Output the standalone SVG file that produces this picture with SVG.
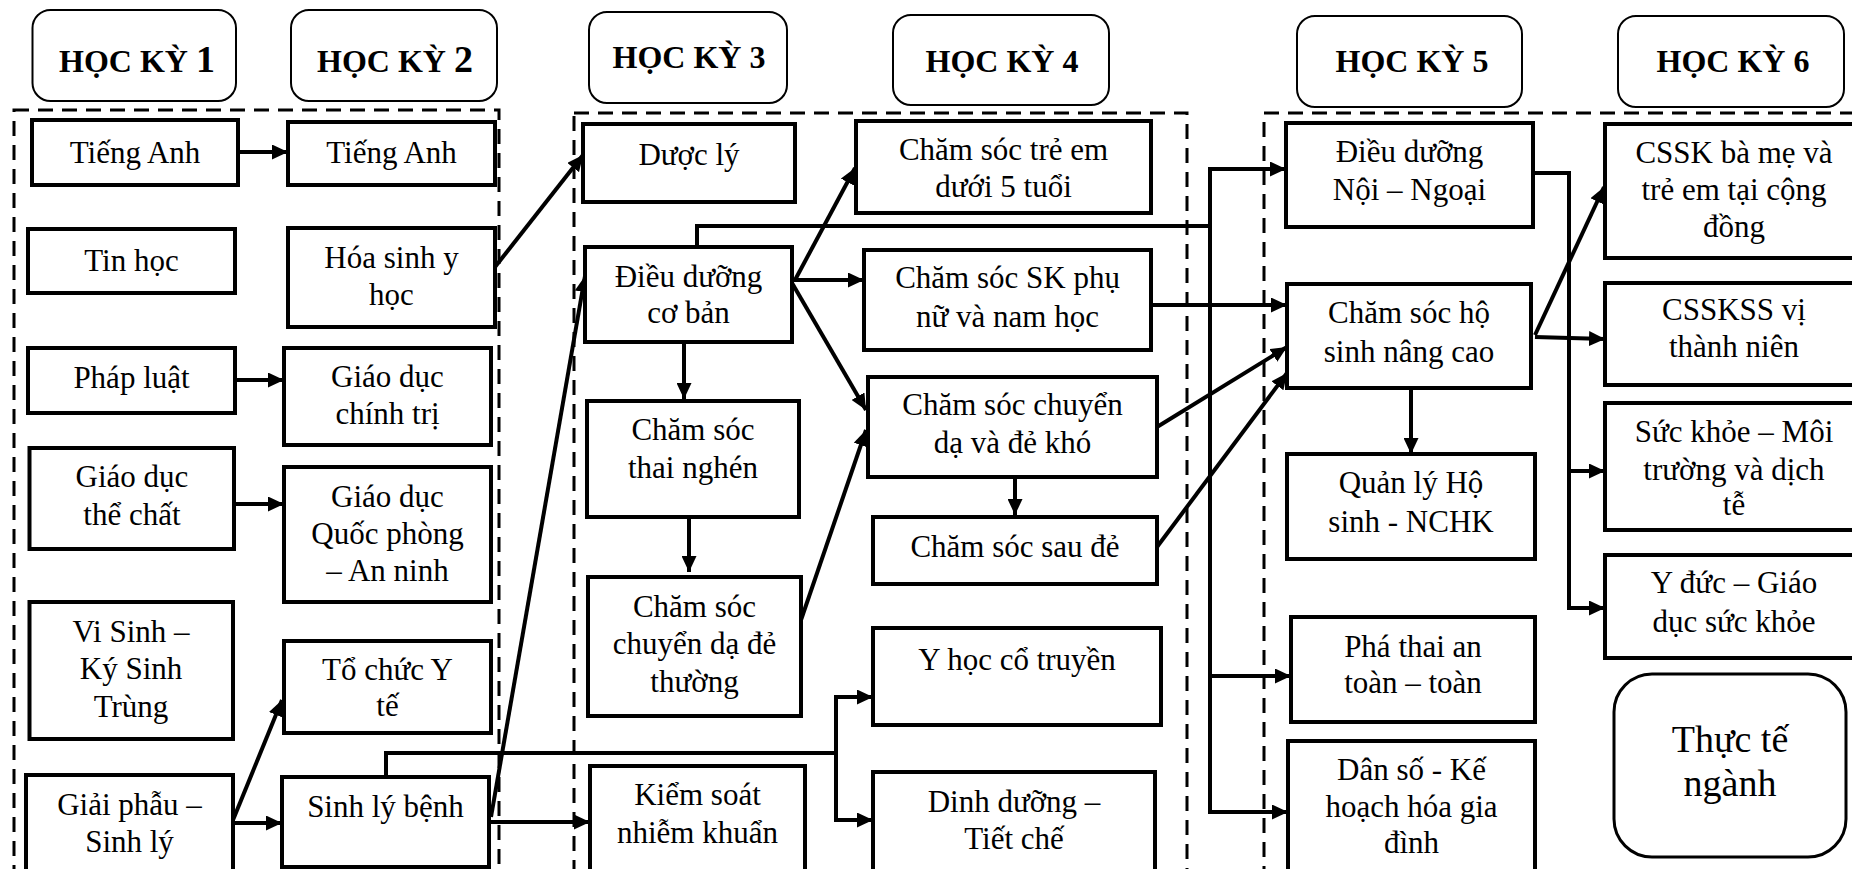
<svg xmlns="http://www.w3.org/2000/svg" width="1852" height="869" viewBox="0 0 1852 869">
<style>
.t{font-family:"Liberation Serif","Times New Roman",serif;font-size:31px;text-anchor:middle;fill:#000}
.h{font-family:"Liberation Serif","Times New Roman",serif;font-size:32px;font-weight:bold;text-anchor:middle;fill:#000}
.box{fill:#fff;stroke:#000;stroke-width:4}
.hd{fill:#fff;stroke:#000;stroke-width:2}
.dash{fill:none;stroke:#000;stroke-width:3;stroke-dasharray:15 9}
.c{fill:none;stroke:#000;stroke-width:4}
.a{fill:none;stroke:#000;stroke-width:4;marker-end:url(#ah)}
</style>
<defs>
<marker id="ah" viewBox="0 0 16 15" refX="16" refY="7.5" markerWidth="16" markerHeight="15" markerUnits="userSpaceOnUse" orient="auto">
<path d="M0,0 L16,7.5 L0,15 z" fill="#000"/>
</marker>
</defs>
<rect width="1852" height="869" fill="#fff"/>

<g id="semesters">
<rect class="dash" x="14" y="110" width="485" height="800"/>
<rect class="dash" x="574" y="113" width="613" height="800"/>
<rect class="dash" x="1264" y="113" width="700" height="800"/>
</g>

<g id="hk1"><rect class="hd" x="32.5" y="10" width="203.5" height="91" rx="18"/><text class="h" x="137" y="72">HỌC KỲ <tspan font-size="38">1</tspan></text></g>
<g id="hk2"><rect class="hd" x="291" y="10" width="206" height="91" rx="18"/><text class="h" x="395" y="72">HỌC KỲ <tspan font-size="38">2</tspan></text></g>
<g id="hk3"><rect class="hd" x="589" y="12" width="198" height="91" rx="18"/><text class="h" x="689" y="68">HỌC KỲ 3</text></g>
<g id="hk4"><rect class="hd" x="893" y="15" width="216" height="90" rx="18"/><text class="h" x="1002" y="72">HỌC KỲ 4</text></g>
<g id="hk5"><rect class="hd" x="1297" y="16" width="225" height="91" rx="18"/><text class="h" x="1412" y="72">HỌC KỲ 5</text></g>
<g id="hk6"><rect class="hd" x="1618" y="16" width="226" height="91" rx="18"/><text class="h" x="1733" y="72">HỌC KỲ 6</text></g>

<g id="connectors">
<path class="a" d="M238,152 H288"/>
<path class="a" d="M495,267 L583,155"/>
<path class="a" d="M235,380 H284"/>
<path class="a" d="M234,504 H284"/>
<path class="a" d="M233,820 L282,700"/>
<path class="a" d="M233,823 H282"/>
<path class="a" d="M491,817 L585,276"/>
<path class="a" d="M489,822 H590"/>
<path class="c" d="M386,777 V753 H836"/>
<path class="a" d="M836,753 V697 H873"/>
<path class="a" d="M836,753 V820 H873"/>
<path class="a" d="M795,280 L855,168"/>
<path class="a" d="M792,280 H864"/>
<path class="a" d="M792,283 L866,410"/>
<path class="a" d="M684,342 V399"/>
<path class="a" d="M689,517 V572"/>
<path class="a" d="M801,620 L866,430"/>
<path class="a" d="M1015,477 V515"/>
<path class="c" d="M697,247 V226 H1210"/>
<path class="a" d="M1210,226 V169 H1286"/>
<path class="a" d="M1210,226 V676 H1291"/>
<path class="a" d="M1210,676 V812 H1288"/>
<path class="a" d="M1151,305 H1287"/>
<path class="a" d="M1157,427 L1287,347"/>
<path class="a" d="M1157,547 L1287,373"/>
<path class="a" d="M1411,388 V454"/>
<path class="a" d="M1535,335 L1604,187"/>
<path class="a" d="M1535,337 L1605,339"/>
<path class="a" d="M1533,173 H1569 V608 H1605"/>
<path class="a" d="M1569,471 H1605"/>
</g>

<g id="n_ta1"><rect class="box" x="32" y="120" width="206" height="65"/><text class="t"><tspan x="135" y="163">Tiếng Anh</tspan></text></g>
<g id="n_tinhoc"><rect class="box" x="28" y="229" width="207" height="64"/><text class="t"><tspan x="131.5" y="271">Tin học</tspan></text></g>
<g id="n_phapluat"><rect class="box" x="28" y="348" width="207" height="65"/><text class="t"><tspan x="131.5" y="388">Pháp luật</tspan></text></g>
<g id="n_gdtc"><rect class="box" x="29.5" y="448" width="204.5" height="101"/><text class="t"><tspan x="132" y="487">Giáo dục</tspan><tspan x="132" y="525">thể chất</tspan></text></g>
<g id="n_visinh"><rect class="box" x="29.5" y="602" width="203.5" height="137"/><text class="t"><tspan x="131" y="642">Vi Sinh –</tspan><tspan x="131" y="679">Ký Sinh</tspan><tspan x="131" y="717">Trùng</tspan></text></g>
<g id="n_giaiphau"><rect class="box" x="26" y="775" width="207" height="110"/><text class="t"><tspan x="129.5" y="815">Giải phẫu –</tspan><tspan x="129.5" y="852">Sinh lý</tspan></text></g>

<g id="n_ta2"><rect class="box" x="288" y="122" width="207" height="63"/><text class="t"><tspan x="391.5" y="163">Tiếng Anh</tspan></text></g>
<g id="n_hoasinh"><rect class="box" x="288" y="228" width="207" height="99"/><text class="t"><tspan x="391.5" y="268">Hóa sinh y</tspan><tspan x="391.5" y="305">học</tspan></text></g>
<g id="n_gdct"><rect class="box" x="284" y="348" width="207" height="97"/><text class="t"><tspan x="387.5" y="387">Giáo dục</tspan><tspan x="387.5" y="424">chính trị</tspan></text></g>
<g id="n_gdqp"><rect class="box" x="284" y="467" width="207" height="135"/><text class="t"><tspan x="387.5" y="507">Giáo dục</tspan><tspan x="387.5" y="544">Quốc phòng</tspan><tspan x="387.5" y="581">– An ninh</tspan></text></g>
<g id="n_tcyt"><rect class="box" x="284" y="641" width="207" height="92"/><text class="t"><tspan x="387.5" y="680">Tổ chức Y</tspan><tspan x="387.5" y="716">tế</tspan></text></g>
<g id="n_slb"><rect class="box" x="282" y="777" width="207" height="90"/><text class="t"><tspan x="385.5" y="817">Sinh lý bệnh</tspan></text></g>

<g id="n_duocly"><rect class="box" x="583" y="124" width="212" height="78"/><text class="t"><tspan x="689" y="165">Dược lý</tspan></text></g>
<g id="n_ddcb"><rect class="box" x="585" y="247" width="207" height="95"/><text class="t"><tspan x="688.5" y="287">Điều dưỡng</tspan><tspan x="688.5" y="323">cơ bản</tspan></text></g>
<g id="n_thainghen"><rect class="box" x="587" y="401" width="212" height="116"/><text class="t"><tspan x="693" y="440">Chăm sóc</tspan><tspan x="693" y="478">thai nghén</tspan></text></g>
<g id="n_cdthuong"><rect class="box" x="588" y="577" width="213" height="139"/><text class="t"><tspan x="694.5" y="617">Chăm sóc</tspan><tspan x="694.5" y="654">chuyển dạ đẻ</tspan><tspan x="694.5" y="692">thường</tspan></text></g>
<g id="n_ksnk"><rect class="box" x="590" y="766" width="215" height="120"/><text class="t"><tspan x="697.5" y="805">Kiểm soát</tspan><tspan x="697.5" y="843">nhiễm khuẩn</tspan></text></g>

<g id="n_treem"><rect class="box" x="856" y="121" width="295" height="92"/><text class="t"><tspan x="1003.5" y="160">Chăm sóc trẻ em</tspan><tspan x="1003.5" y="197">dưới 5 tuổi</tspan></text></g>
<g id="n_sknu"><rect class="box" x="864" y="250" width="287" height="100"/><text class="t"><tspan x="1007.5" y="288">Chăm sóc SK phụ</tspan><tspan x="1007.5" y="327">nữ và nam học</tspan></text></g>
<g id="n_cdkho"><rect class="box" x="868" y="377" width="289" height="100"/><text class="t"><tspan x="1012.5" y="415">Chăm sóc chuyển</tspan><tspan x="1012.5" y="453">dạ và đẻ khó</tspan></text></g>
<g id="n_saude"><rect class="box" x="873" y="517" width="284" height="67"/><text class="t"><tspan x="1015" y="557">Chăm sóc sau đẻ</tspan></text></g>
<g id="n_yhct"><rect class="box" x="873" y="628" width="288" height="97"/><text class="t"><tspan x="1017" y="670">Y học cổ truyền</tspan></text></g>
<g id="n_dinhduong"><rect class="box" x="873" y="772" width="282" height="114"/><text class="t"><tspan x="1014" y="812">Dinh dưỡng –</tspan><tspan x="1014" y="849">Tiết chế</tspan></text></g>

<g id="n_ddnn"><rect class="box" x="1286" y="123" width="247" height="104"/><text class="t"><tspan x="1409.5" y="162">Điều dưỡng</tspan><tspan x="1409.5" y="200">Nội – Ngoại</tspan></text></g>
<g id="n_cshs"><rect class="box" x="1287" y="284" width="244" height="104"/><text class="t"><tspan x="1409" y="323">Chăm sóc hộ</tspan><tspan x="1409" y="362">sinh nâng cao</tspan></text></g>
<g id="n_qlhs"><rect class="box" x="1287" y="454" width="248" height="105"/><text class="t"><tspan x="1411" y="493">Quản lý Hộ</tspan><tspan x="1411" y="532">sinh - NCHK</tspan></text></g>
<g id="n_phathai"><rect class="box" x="1291" y="617" width="244" height="105"/><text class="t"><tspan x="1413" y="657">Phá thai an</tspan><tspan x="1413" y="693">toàn – toàn</tspan></text></g>
<g id="n_danso"><rect class="box" x="1288" y="741" width="247" height="145"/><text class="t"><tspan x="1411.5" y="780">Dân số - Kế</tspan><tspan x="1411.5" y="817">hoạch hóa gia</tspan><tspan x="1411.5" y="853">đình</tspan></text></g>

<g id="n_cssk"><rect class="box" x="1605" y="124" width="260" height="134"/><text class="t"><tspan x="1734" y="163">CSSK bà mẹ và</tspan><tspan x="1734" y="200">trẻ em tại cộng</tspan><tspan x="1734" y="237">đồng</tspan></text></g>
<g id="n_csskss"><rect class="box" x="1605" y="283" width="260" height="102"/><text class="t"><tspan x="1734" y="320">CSSKSS vị</tspan><tspan x="1734" y="357">thành niên</tspan></text></g>
<g id="n_skmt"><rect class="box" x="1605" y="403" width="260" height="127"/><text class="t"><tspan x="1734" y="442">Sức khỏe – Môi</tspan><tspan x="1734" y="480">trường và dịch</tspan><tspan x="1734" y="515">tễ</tspan></text></g>
<g id="n_yduc"><rect class="box" x="1605" y="555" width="260" height="103"/><text class="t"><tspan x="1734" y="593">Y đức – Giáo</tspan><tspan x="1734" y="632">dục sức khỏe</tspan></text></g>
<g id="n_thucte"><rect x="1614" y="674" width="232" height="183" rx="38" fill="#fff" stroke="#000" stroke-width="3"/><text class="t" style="font-size:38px"><tspan x="1730" y="752">Thực tế</tspan><tspan x="1730" y="796">ngành</tspan></text></g>
</svg>
